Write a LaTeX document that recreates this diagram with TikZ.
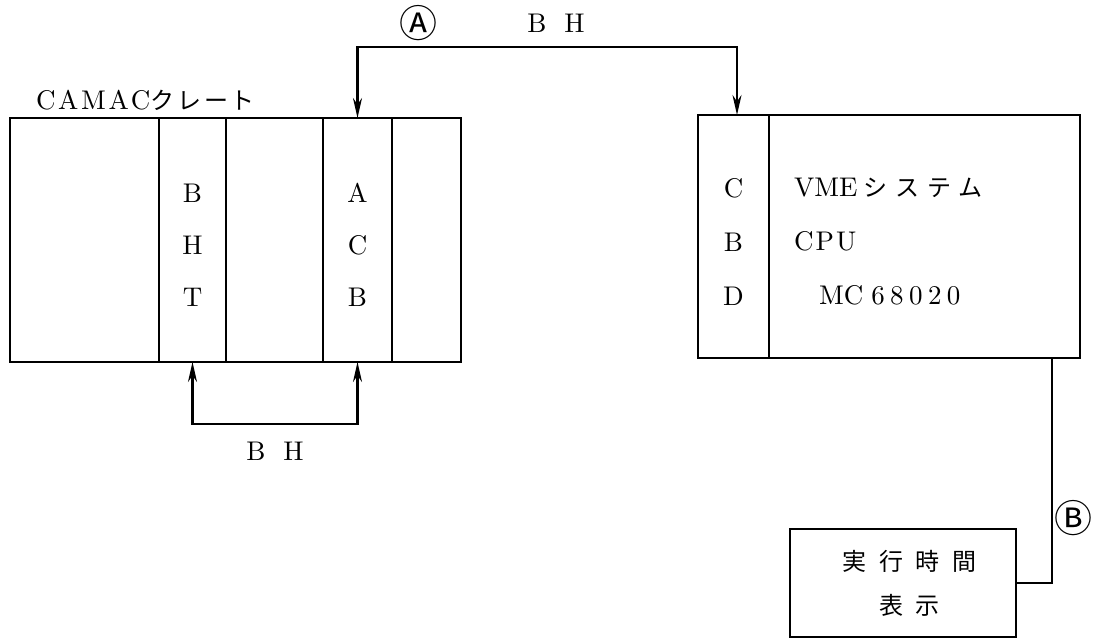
\documentclass[tikz,border=0pt]{standalone}
\usepackage{fontspec}
\setmainfont{lmroman10-regular.otf}
\newfontfamily\jpfont{Noto Sans CJK JP}
\usetikzlibrary{arrows.meta, positioning, calc}
\newcommand{\lsp}[2]{{\addfontfeatures{LetterSpace=#1}#2}}
\newcommand{\jsp}[2]{{\jpfont\addfontfeatures{LetterSpace=#1}#2}}

\begin{document}
\begin{tikzpicture}[x=0.5pt,y=-0.5pt,
    box/.style={draw, line width=1.2pt, inner sep=0pt, outer sep=0pt},
    slot/.style={draw, line width=0.6pt, inner sep=0pt, outer sep=0pt},
    bus/.style={line width=1.2pt, {Stealth[length=10pt,width=4.5pt]}-{Stealth[length=10pt,width=4.5pt]}},
    wire/.style={line width=1.2pt},
    col/.style={align=center, font=\fontsize{13.5}{26}\selectfont},
    txt/.style={font=\fontsize{13.5}{15}\selectfont},
    circ/.style={font=\jpfont\fontsize{19}{19}\selectfont}]
  \path[use as bounding box] (0,0) rectangle (1093,638);
  % CAMAC crate
  \node[slot, minimum width=33.5pt, minimum height=122pt] (bht) at (192.5,240) {};
  \node[slot, minimum width=34.5pt, minimum height=122pt] (acb) at (357.5,240) {};
  \node[box, minimum width=225.5pt, minimum height=122pt] (crate) at (235.5,240) {};
  \node[txt, anchor=west] (cratelbl) at (29,100) {\lsp{10}{CAMAC}{\jpfont\fontsize{12}{14}\selectfont\addfontfeatures{LetterSpace=12}クレート}};
  \node[col] (bhttxt) at ([yshift=-2.5pt]bht.center) {B\\H\\T};
  \node[col] (acbtxt) at ([yshift=-2.5pt]acb.center) {A\\C\\B};
  % VME system
  \node[slot, minimum width=35.5pt, minimum height=121.5pt] (cbd) at (733.5,236.5) {};
  \node[box, minimum width=191pt, minimum height=121.5pt] (vme) at (889,236.5) {};
  \node[col, font=\fontsize{13.5}{27}\selectfont] (cbdtxt) at ([yshift=-2.75pt]cbd.center) {C\\B\\D};
  \node[anchor=west, align=left, font=\fontsize{13.5}{27}\selectfont] (cpu) at (787,242)
    {VME\hspace{3pt}{\jpfont\fontsize{12}{27}\selectfont\addfontfeatures{LetterSpace=33}システム}\\
     \lsp{8}{CPU}\\\hspace{12.5pt}MC\hspace{4pt}\lsp{20}{68020}};
  % display
  \node[box, minimum width=113pt, minimum height=54pt] (disp) at (903,583) {};
  \node[align=center, font=\fontsize{12}{22}\selectfont] (disptxt) at ([xshift=3.25pt]disp.center)
    {\jsp{54}{実行時間}\\\jsp{54}{表示}};
  % connections
  \coordinate (vmein) at (737,115);
  \draw[bus] (acb.north) -- ++(0,-71) -| (vmein);
  \node[circ] (lblA) at (418,23) {Ⓐ};
  \node[txt] (bhtop) at (556,23) {B\hspace{9pt}H};
  \draw[bus] (bht.south) -- ++(0,62) -| (acb.south);
  \node[txt] (bhbot) at (275,451) {B\hspace{9pt}H};
  \coordinate (vmeout) at (1052,358);
  \draw[wire] (vmeout) |- (disp.east);
  \node[circ] (lblB) at (1073,518) {Ⓑ};
\end{tikzpicture}
\end{document}
